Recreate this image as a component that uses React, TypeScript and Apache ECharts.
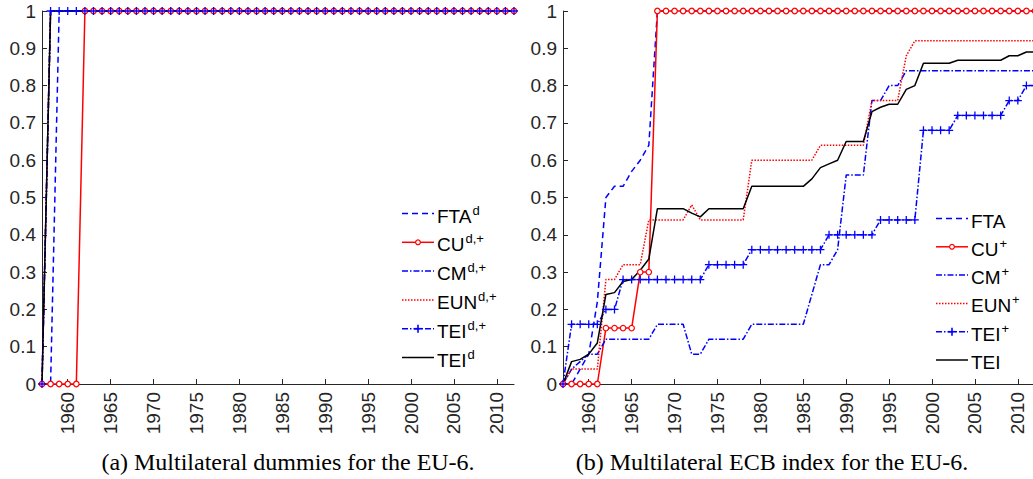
import React, { useEffect, useRef } from "react";
import * as echarts from "echarts";

const years = [
  1957, 1958, 1959, 1960, 1961, 1962, 1963, 1964, 1965, 1966, 1967, 1968, 1969, 1970,
  1971, 1972, 1973, 1974, 1975, 1976, 1977, 1978, 1979, 1980, 1981, 1982, 1983, 1984,
  1985, 1986, 1987, 1988, 1989, 1990, 1991, 1992, 1993, 1994, 1995, 1996, 1997, 1998,
  1999, 2000, 2001, 2002, 2003, 2004, 2005, 2006, 2007, 2008, 2009, 2010, 2011, 2012,
];

const yTicks = [0, 0.1, 0.2, 0.3, 0.4, 0.5, 0.6, 0.7, 0.8, 0.9, 1];

// Panel (a): multilateral dummies
const ftaD = [
  0, 0, 1, 1, 1, 1, 1, 1, 1, 1, 1, 1, 1, 1, 1, 1, 1, 1, 1, 1, 1, 1, 1, 1, 1, 1, 1, 1,
  1, 1, 1, 1, 1, 1, 1, 1, 1, 1, 1, 1, 1, 1, 1, 1, 1, 1, 1, 1, 1, 1, 1, 1, 1, 1, 1, 1,
];
const cuD = [
  0, 0, 0, 0, 0, 1, 1, 1, 1, 1, 1, 1, 1, 1, 1, 1, 1, 1, 1, 1, 1, 1, 1, 1, 1, 1, 1, 1,
  1, 1, 1, 1, 1, 1, 1, 1, 1, 1, 1, 1, 1, 1, 1, 1, 1, 1, 1, 1, 1, 1, 1, 1, 1, 1, 1, 1,
];
const cmD = [
  0, 1, 1, 1, 1, 1, 1, 1, 1, 1, 1, 1, 1, 1, 1, 1, 1, 1, 1, 1, 1, 1, 1, 1, 1, 1, 1, 1,
  1, 1, 1, 1, 1, 1, 1, 1, 1, 1, 1, 1, 1, 1, 1, 1, 1, 1, 1, 1, 1, 1, 1, 1, 1, 1, 1, 1,
];
const eunD = [
  0, 1, 1, 1, 1, 1, 1, 1, 1, 1, 1, 1, 1, 1, 1, 1, 1, 1, 1, 1, 1, 1, 1, 1, 1, 1, 1, 1,
  1, 1, 1, 1, 1, 1, 1, 1, 1, 1, 1, 1, 1, 1, 1, 1, 1, 1, 1, 1, 1, 1, 1, 1, 1, 1, 1, 1,
];
const teiPlusD = [
  0, 1, 1, 1, 1, 1, 1, 1, 1, 1, 1, 1, 1, 1, 1, 1, 1, 1, 1, 1, 1, 1, 1, 1, 1, 1, 1, 1,
  1, 1, 1, 1, 1, 1, 1, 1, 1, 1, 1, 1, 1, 1, 1, 1, 1, 1, 1, 1, 1, 1, 1, 1, 1, 1, 1, 1,
];
const teiD = [
  0, 1, 1, 1, 1, 1, 1, 1, 1, 1, 1, 1, 1, 1, 1, 1, 1, 1, 1, 1, 1, 1, 1, 1, 1, 1, 1, 1,
  1, 1, 1, 1, 1, 1, 1, 1, 1, 1, 1, 1, 1, 1, 1, 1, 1, 1, 1, 1, 1, 1, 1, 1, 1, 1, 1, 1,
];

// Panel (b): multilateral ECB index
const fta = [
  0, 0, 0.04, 0.08, 0.22, 0.5, 0.53, 0.53, 0.57, 0.6, 0.64, 1, 1, 1,
  1, 1, 1, 1, 1, 1, 1, 1, 1, 1, 1, 1, 1, 1,
  1, 1, 1, 1, 1, 1, 1, 1, 1, 1, 1, 1, 1, 1,
  1, 1, 1, 1, 1, 1, 1, 1, 1, 1, 1, 1, 1, 1,
];
const cu = [
  0, 0, 0, 0, 0, 0.15, 0.15, 0.15, 0.15, 0.3, 0.3, 1, 1, 1,
  1, 1, 1, 1, 1, 1, 1, 1, 1, 1, 1, 1, 1, 1,
  1, 1, 1, 1, 1, 1, 1, 1, 1, 1, 1, 1, 1, 1,
  1, 1, 1, 1, 1, 1, 1, 1, 1, 1, 1, 1, 1, 1,
];
const cm = [
  0, 0.04, 0.06, 0.08, 0.08, 0.12, 0.12, 0.12, 0.12, 0.12, 0.12, 0.16, 0.16, 0.16,
  0.16, 0.08, 0.08, 0.12, 0.12, 0.12, 0.12, 0.12, 0.16, 0.16, 0.16, 0.16, 0.16, 0.16,
  0.16, 0.24, 0.32, 0.32, 0.36, 0.56, 0.56, 0.56, 0.76, 0.76, 0.8, 0.8, 0.84, 0.84,
  0.84, 0.84, 0.84, 0.84, 0.84, 0.84, 0.84, 0.84, 0.84, 0.84, 0.84, 0.84, 0.84, 0.84,
];
const eun = [
  0, 0.04, 0.04, 0.04, 0.04, 0.28, 0.28, 0.32, 0.32, 0.32, 0.44, 0.44, 0.44, 0.44,
  0.44, 0.48, 0.44, 0.44, 0.44, 0.44, 0.44, 0.44, 0.6, 0.6, 0.6, 0.6, 0.6, 0.6,
  0.6, 0.6, 0.64, 0.64, 0.64, 0.64, 0.64, 0.64, 0.76, 0.76, 0.76, 0.76, 0.88, 0.92,
  0.92, 0.92, 0.92, 0.92, 0.92, 0.92, 0.92, 0.92, 0.92, 0.92, 0.92, 0.92, 0.92, 0.92,
];
const teiPlus = [
  0, 0.16, 0.16, 0.16, 0.16, 0.2, 0.2, 0.28, 0.28, 0.28, 0.28, 0.28, 0.28, 0.28,
  0.28, 0.28, 0.28, 0.32, 0.32, 0.32, 0.32, 0.32, 0.36, 0.36, 0.36, 0.36, 0.36, 0.36,
  0.36, 0.36, 0.36, 0.4, 0.4, 0.4, 0.4, 0.4, 0.4, 0.44, 0.44, 0.44, 0.44, 0.44,
  0.68, 0.68, 0.68, 0.68, 0.72, 0.72, 0.72, 0.72, 0.72, 0.72, 0.76, 0.76, 0.8, 0.8,
];
const tei = [
  0, 0.06, 0.066, 0.08, 0.11, 0.24, 0.245, 0.275, 0.28, 0.305, 0.335, 0.47, 0.47, 0.47,
  0.47, 0.458, 0.448, 0.47, 0.47, 0.47, 0.47, 0.47, 0.53, 0.53, 0.53, 0.53, 0.53, 0.53,
  0.53, 0.55, 0.58, 0.59, 0.6, 0.65, 0.65, 0.65, 0.73, 0.742, 0.75, 0.75, 0.79, 0.8,
  0.86, 0.86, 0.86, 0.86, 0.868, 0.868, 0.868, 0.868, 0.868, 0.868, 0.88, 0.88, 0.89, 0.89,
];

const legendA = [
  { main: "FTA", sup: "d" },
  { main: "CU", sup: "d,+" },
  { main: "CM", sup: "d,+" },
  { main: "EUN", sup: "d,+" },
  { main: "TEI", sup: "d,+" },
  { main: "TEI", sup: "d" },
];
const legendB = [
  { main: "FTA", sup: "" },
  { main: "CU", sup: "+" },
  { main: "CM", sup: "+" },
  { main: "EUN", sup: "+" },
  { main: "TEI", sup: "+" },
  { main: "TEI", sup: "" },
];

const captionA = "(a) Multilateral dummies for the EU-6.";
const captionB = "(b) Multilateral ECB index for the EU-6.";

const BLUE = "#0000ff";
const RED = "#ff0000";
const BLACK = "#000000";
const AXIS = "#262626";
const SANS = "'Liberation Sans', Arial, Helvetica, sans-serif";
const SERIF = "'Liberation Serif', 'DejaVu Serif', serif";
const PLUS = "path://M4.2,0 H5.8 V4.2 H10 V5.8 H5.8 V10 H4.2 V5.8 H0 V4.2 H4.2 Z";

type Kind = "fta" | "cu" | "cm" | "eun" | "teiPlus" | "tei";
const kinds: Kind[] = ["fta", "cu", "cm", "eun", "teiPlus", "tei"];

const styleOf = (k: Kind) => {
  switch (k) {
    case "fta":
      return { color: BLUE, dash: [6, 4] as number[] | "solid", symbol: "none" };
    case "cu":
      return { color: RED, dash: "solid" as const, symbol: "circle" };
    case "cm":
      return { color: BLUE, dash: [6, 2, 1.5, 2], symbol: "none" };
    case "eun":
      return { color: RED, dash: [1.5, 1.5], symbol: "none" };
    case "teiPlus":
      return { color: BLUE, dash: [6, 2, 1.5, 2], symbol: PLUS };
    default:
      return { color: BLACK, dash: "solid" as const, symbol: "none" };
  }
};

const makeSeries = (name: string, k: Kind, data: number[], gi: number) => {
  const s = styleOf(k);
  const base: any = {
    type: "line",
    name,
    xAxisIndex: gi,
    yAxisIndex: gi,
    data,
    clip: false,
    showAllSymbol: true,
    symbol: s.symbol,
    lineStyle: { color: s.color, width: 1.5, type: s.dash },
    emphasis: { disabled: true },
    silent: true,
  };
  if (k === "cu") {
    base.symbolSize = 5.5;
    base.itemStyle = { color: "#ffffff", borderColor: RED, borderWidth: 1.2 };
  } else if (k === "teiPlus") {
    base.symbolSize = 8;
    base.itemStyle = { color: BLUE, borderWidth: 0 };
  } else {
    base.itemStyle = { color: s.color };
  }
  return base;
};

const isFive = (_i: number, v: string) => Number(v) % 5 === 0;

const xAxisFor = (gi: number) => ({
  type: "category",
  gridIndex: gi,
  data: years.map(String),
  boundaryGap: false,
  axisLine: { show: true, lineStyle: { color: AXIS, width: 1 } },
  axisTick: { show: true, inside: true, length: 5, interval: isFive, lineStyle: { color: AXIS } },
  axisLabel: {
    rotate: 90,
    interval: isFive,
    margin: 8,
    fontSize: 19,
    fontFamily: SANS,
    color: AXIS,
  },
  splitLine: { show: false },
});

const yAxisFor = (gi: number) => ({
  type: "value",
  gridIndex: gi,
  min: yTicks[0],
  max: yTicks[yTicks.length - 1],
  interval: 0.1,
  axisLine: { show: true, lineStyle: { color: AXIS, width: 1 } },
  axisTick: { show: true, inside: true, length: 5, lineStyle: { color: AXIS } },
  axisLabel: {
    margin: 6,
    fontSize: 19,
    fontFamily: SANS,
    color: AXIS,
    formatter: (v: number) => String(Math.round(v * 10) / 10),
  },
  splitLine: { show: false },
});

const legendGraphic = (
  entries: { main: string; sup: string }[],
  x1: number,
  x2: number,
  tx: number,
  y0: number,
  step: number
) => {
  const els: any[] = [];
  entries.forEach((e, i) => {
    const k = kinds[i];
    const s = styleOf(k);
    const y = y0 + step * i;
    els.push({
      type: "line",
      silent: true,
      shape: { x1, y1: y, x2, y2: y },
      style: {
        stroke: s.color,
        lineWidth: 1.5,
        lineDash: s.dash === "solid" ? null : s.dash,
      },
    });
    const cx = (x1 + x2) / 2;
    if (k === "cu") {
      els.push({
        type: "circle",
        silent: true,
        shape: { cx, cy: y, r: 2.4 },
        style: { fill: "#ffffff", stroke: RED, lineWidth: 1.2 },
      });
    }
    if (k === "teiPlus") {
      els.push({
        type: "line",
        silent: true,
        shape: { x1: cx, y1: y - 4, x2: cx, y2: y + 4 },
        style: { stroke: BLUE, lineWidth: 1.6 },
      });
      els.push({
        type: "line",
        silent: true,
        shape: { x1: cx - 4, y1: y, x2: cx + 4, y2: y },
        style: { stroke: BLUE, lineWidth: 1.6 },
      });
    }
    const text = e.sup ? `{n|${e.main}}{s|${e.sup}}` : `{n|${e.main}}`;
    els.push({
      type: "text",
      silent: true,
      style: {
        text,
        x: tx,
        y: y + 1,
        verticalAlign: "middle",
        fill: "#000",
        rich: {
          n: { fontSize: 19, fontFamily: SANS, fill: "#000", lineHeight: 22, verticalAlign: "bottom" },
          s: { fontSize: 13, fontFamily: SANS, fill: "#000", lineHeight: 22, verticalAlign: "bottom", padding: [0, 0, 9, 1] },
        },
      },
    });
  });
  return els;
};

export default function App() {
  const ref = useRef<HTMLDivElement>(null);

  useEffect(() => {
    if (!ref.current) return;
    const chart = echarts.init(ref.current, undefined, { renderer: "svg" });
    const seriesA = [
      makeSeries("FTA^d", "fta", ftaD, 0),
      makeSeries("CU^d,+", "cu", cuD, 0),
      makeSeries("CM^d,+", "cm", cmD, 0),
      makeSeries("EUN^d,+", "eun", eunD, 0),
      makeSeries("TEI^d,+", "teiPlus", teiPlusD, 0),
      makeSeries("TEI^d", "tei", teiD, 0),
    ];
    const seriesB = [
      makeSeries("FTA", "fta", fta, 1),
      makeSeries("CU^+", "cu", cu, 1),
      makeSeries("CM^+", "cm", cm, 1),
      makeSeries("EUN^+", "eun", eun, 1),
      makeSeries("TEI^+", "teiPlus", teiPlus, 1),
      makeSeries("TEI", "tei", tei, 1),
    ];
    chart.setOption({
      animation: false,
      backgroundColor: "#ffffff",
      grid: [
        { left: 42, top: 11, width: 472, height: 373, containLabel: false },
        { left: 563, top: 11, width: 472, height: 373, containLabel: false },
      ],
      xAxis: [xAxisFor(0), xAxisFor(1)],
      yAxis: [yAxisFor(0), yAxisFor(1)],
      series: [...seriesA, ...seriesB],
      graphic: [
        ...legendGraphic(legendA, 402, 434, 437, 213.5, 28.8),
        ...legendGraphic(legendB, 936, 968, 971, 218.5, 28.3),
        {
          type: "text",
          silent: true,
          style: {
            text: captionA,
            x: 288,
            y: 462,
            align: "center",
            verticalAlign: "middle",
            font: `24px ${SERIF}`,
            fill: "#000",
          },
        },
        {
          type: "text",
          silent: true,
          style: {
            text: captionB,
            x: 772,
            y: 462,
            align: "center",
            verticalAlign: "middle",
            font: `24px ${SERIF}`,
            fill: "#000",
          },
        },
      ],
    });
    return () => chart.dispose();
  }, []);

  return (
    <div
      style={{
        position: "fixed",
        left: 0,
        top: 0,
        width: 1033,
        height: 479,
        overflow: "hidden",
        background: "#fff",
      }}
    >
      <div ref={ref} style={{ width: 1040, height: 479 }} />
    </div>
  );
}
